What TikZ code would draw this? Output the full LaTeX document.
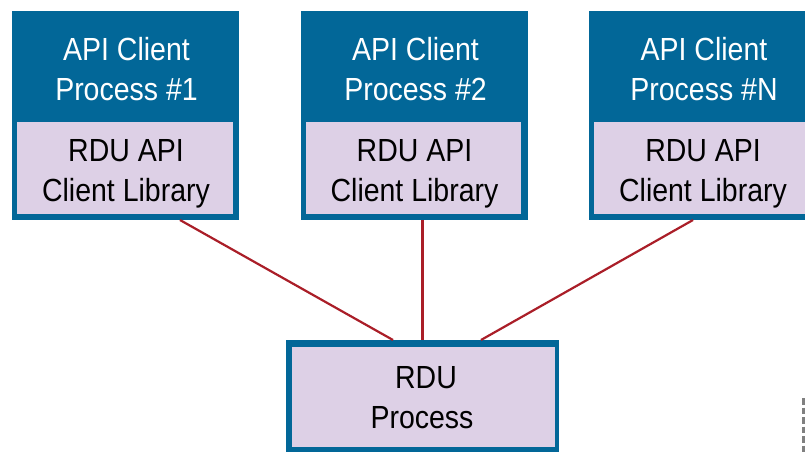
\documentclass[tikz,border=0pt]{standalone}
\usepackage{fontspec}
\setmainfont[FakeStretch=0.89]{Liberation Sans}
\definecolor{boxblue}{RGB}{2,103,152}
\definecolor{lilac}{RGB}{221,208,230}
\definecolor{linkred}{RGB}{170,30,40}
\tikzset{
  px/.style={x=1pt,y=-1pt},
  outerbox/.style={fill=boxblue,draw=none,inner sep=0,outer sep=0,anchor=north west},
  innerbox/.style={fill=lilac,draw=none,inner sep=0,outer sep=0,anchor=north west},
  boxtext/.style={align=center,font=\fontsize{32}{40}\selectfont,inner sep=0,anchor=center},
  titletext/.style={boxtext,text=white},
  libtext/.style={boxtext,text=black},
  link/.style={draw=linkred,line width=2.2pt},
  figmark/.style={draw=black!50,line width=2.5pt,dash pattern=on 6.5pt off 3pt}
}
\begin{document}
\begin{tikzpicture}[px]
\useasboundingbox (0,0) rectangle (805,452);
\node[outerbox,minimum width=227pt,minimum height=209pt] (c1) at (12,11) {};
\node[outerbox,minimum width=227pt,minimum height=209pt] (c2) at (300.5,11) {};
\node[outerbox,minimum width=216pt,minimum height=209pt] (c3) at (589,11) {};
\node[titletext] (t1) at (126.5,69) {API Client\\Process \#1};
\node[titletext] (t2) at (415.5,69) {API Client\\Process \#2};
\node[titletext] (t3) at (704,69) {API Client\\Process \#N};
\node[innerbox,minimum width=215.5pt,minimum height=92pt] (l1) at (17,122) {};
\node[innerbox,minimum width=215.5pt,minimum height=92pt] (l2) at (305.5,122) {};
\node[innerbox,minimum width=211pt,minimum height=92pt] (l3) at (594,122) {};
\node[libtext] (lt1) at (126,173.5) {RDU API\\Client Library};
\node[libtext] (lt2) at (414.5,173.5) {RDU API\\Client Library};
\node[libtext] (lt3) at (703,173.5) {RDU API\\Client Library};
\node[outerbox,minimum width=273pt,minimum height=112pt] (r) at (286,340) {};
\node[innerbox,minimum width=263pt,minimum height=100pt] (rp) at (291.5,347) {};
\node[libtext] (rt) at (422,397.5) {\hspace*{8pt}RDU\\Process};
\draw[link] ([xshift=54.5pt]c1.south) -- ([xshift=-29.5pt]r.north);
\draw[link] ([xshift=8.5pt]c2.south) -- (r.north);
\draw[link] ([xshift=-4pt]c3.south) -- ([xshift=58.5pt]r.north);
\coordinate (m1) at (803.7,398);
\coordinate (m2) at (803.7,452);
\draw[figmark] (m1) -- (m2);
\end{tikzpicture}
\end{document}
